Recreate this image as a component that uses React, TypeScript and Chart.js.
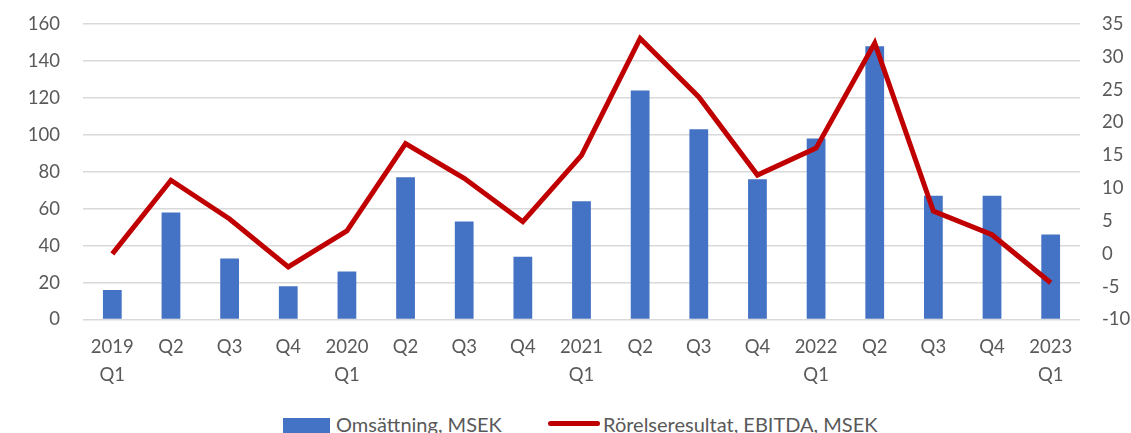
import React, { useEffect, useRef } from "react";
import { Chart, registerables } from "chart.js";

Chart.register(...registerables);

const categories: (string | string[])[] = [
  ["2019", "Q1"], "Q2", "Q3", "Q4",
  ["2020", "Q1"], "Q2", "Q3", "Q4",
  ["2021", "Q1"], "Q2", "Q3", "Q4",
  ["2022", "Q1"], "Q2", "Q3", "Q4",
  ["2023", "Q1"],
];

const omsattning: number[] = [16, 58, 33, 18, 26, 77, 53, 34, 64, 124, 103, 76, 98, 148, 67, 67, 46];
const ebitda: number[] = [0, 11.2, 5.3, -2.0, 3.5, 16.8, 11.5, 4.9, 15, 32.8, 23.9, 12.0, 16.1, 32.1, 6.5, 2.9, -4.4];

const leftTicks = { min: 0, max: 160, step: 20 };
const rightTicks = { min: -10, max: 35, step: 5 };

const FONT = "Lato, 'Open Sans', sans-serif";
const TEXT = "#595959";

export default function App() {
  const ref = useRef<HTMLCanvasElement | null>(null);

  useEffect(() => {
    if (!ref.current) return;
    const chart = new Chart(ref.current, {
      type: "bar",
      data: {
        labels: categories,
        datasets: [
          {
            type: "line",
            label: "Rörelseresultat, EBITDA, MSEK",
            data: ebitda,
            yAxisID: "y1",
            borderColor: "#C00000",
            backgroundColor: "#C00000",
            borderWidth: 5,
            pointRadius: 0,
            tension: 0,
            order: 0,
          } as any,
          {
            type: "bar",
            label: "Omsättning, MSEK",
            data: omsattning,
            yAxisID: "y",
            backgroundColor: "#4472C4",
            categoryPercentage: 1,
            barPercentage: 0.32,
            order: 1,
          },
        ],
      },
      options: {
        animation: false,
        responsive: false,
        maintainAspectRatio: false,
        layout: { padding: { top: 24, bottom: 0, left: 0, right: 0 } },
        plugins: {
          legend: { display: false },
          tooltip: { enabled: false },
        },
        scales: {
          x: {
            grid: { display: false, drawTicks: false },
            border: { display: false },
            ticks: {
              color: TEXT,
              font: { family: FONT, size: 18.5, lineHeight: 1.48 },
              padding: 14,
              maxRotation: 0,
              autoSkip: false,
            },
            afterFit: (s: any) => {
              s.height = 80.5;
              s.paddingLeft = 0;
              s.paddingRight = 0;
            },
          },
          y: {
            position: "left",
            min: leftTicks.min,
            max: leftTicks.max,
            grid: { color: "#d9d9d9", lineWidth: 1.5, drawTicks: false },
            border: { display: false },
            ticks: {
              stepSize: leftTicks.step,
              color: TEXT,
              font: { family: FONT, size: 18.5 },
              padding: 23,
            },
            afterFit: (s: any) => {
              s.width = 83;
              s.paddingTop = 0;
              s.paddingBottom = 0;
            },
          },
          y1: {
            position: "right",
            min: rightTicks.min,
            max: rightTicks.max,
            grid: { display: false, drawTicks: false },
            border: { display: false },
            ticks: {
              stepSize: rightTicks.step,
              color: TEXT,
              font: { family: FONT, size: 18.5 },
              padding: 22,
            },
            afterFit: (s: any) => {
              s.width = 51;
              s.paddingTop = 0;
              s.paddingBottom = 0;
            },
          },
        },
      },
    });
    return () => chart.destroy();
  }, []);

  const textStyle: React.CSSProperties = {
    position: "absolute",
    top: 414,
    fontFamily: FONT,
    fontSize: 20,
    lineHeight: "20px",
    color: TEXT,
    whiteSpace: "nowrap",
  };

  return (
    <div
      style={{
        position: "fixed",
        left: 0,
        top: 0,
        width: 1131,
        height: 433,
        overflow: "hidden",
        background: "#ffffff",
      }}
    >
      <canvas ref={ref} width={1131} height={400} style={{ position: "absolute", left: 0, top: 0, width: 1131, height: 400 }} />
      <div style={{ position: "absolute", left: 283, top: 418, width: 47, height: 15, background: "#4472C4" }} />
      <span style={{ ...textStyle, left: 336 }}>Omsättning, MSEK</span>
      <div style={{ position: "absolute", left: 548, top: 420.5, width: 52, height: 5, borderRadius: 3, background: "#C00000" }} />
      <span style={{ ...textStyle, left: 603 }}>Rörelseresultat, EBITDA, MSEK</span>
    </div>
  );
}
